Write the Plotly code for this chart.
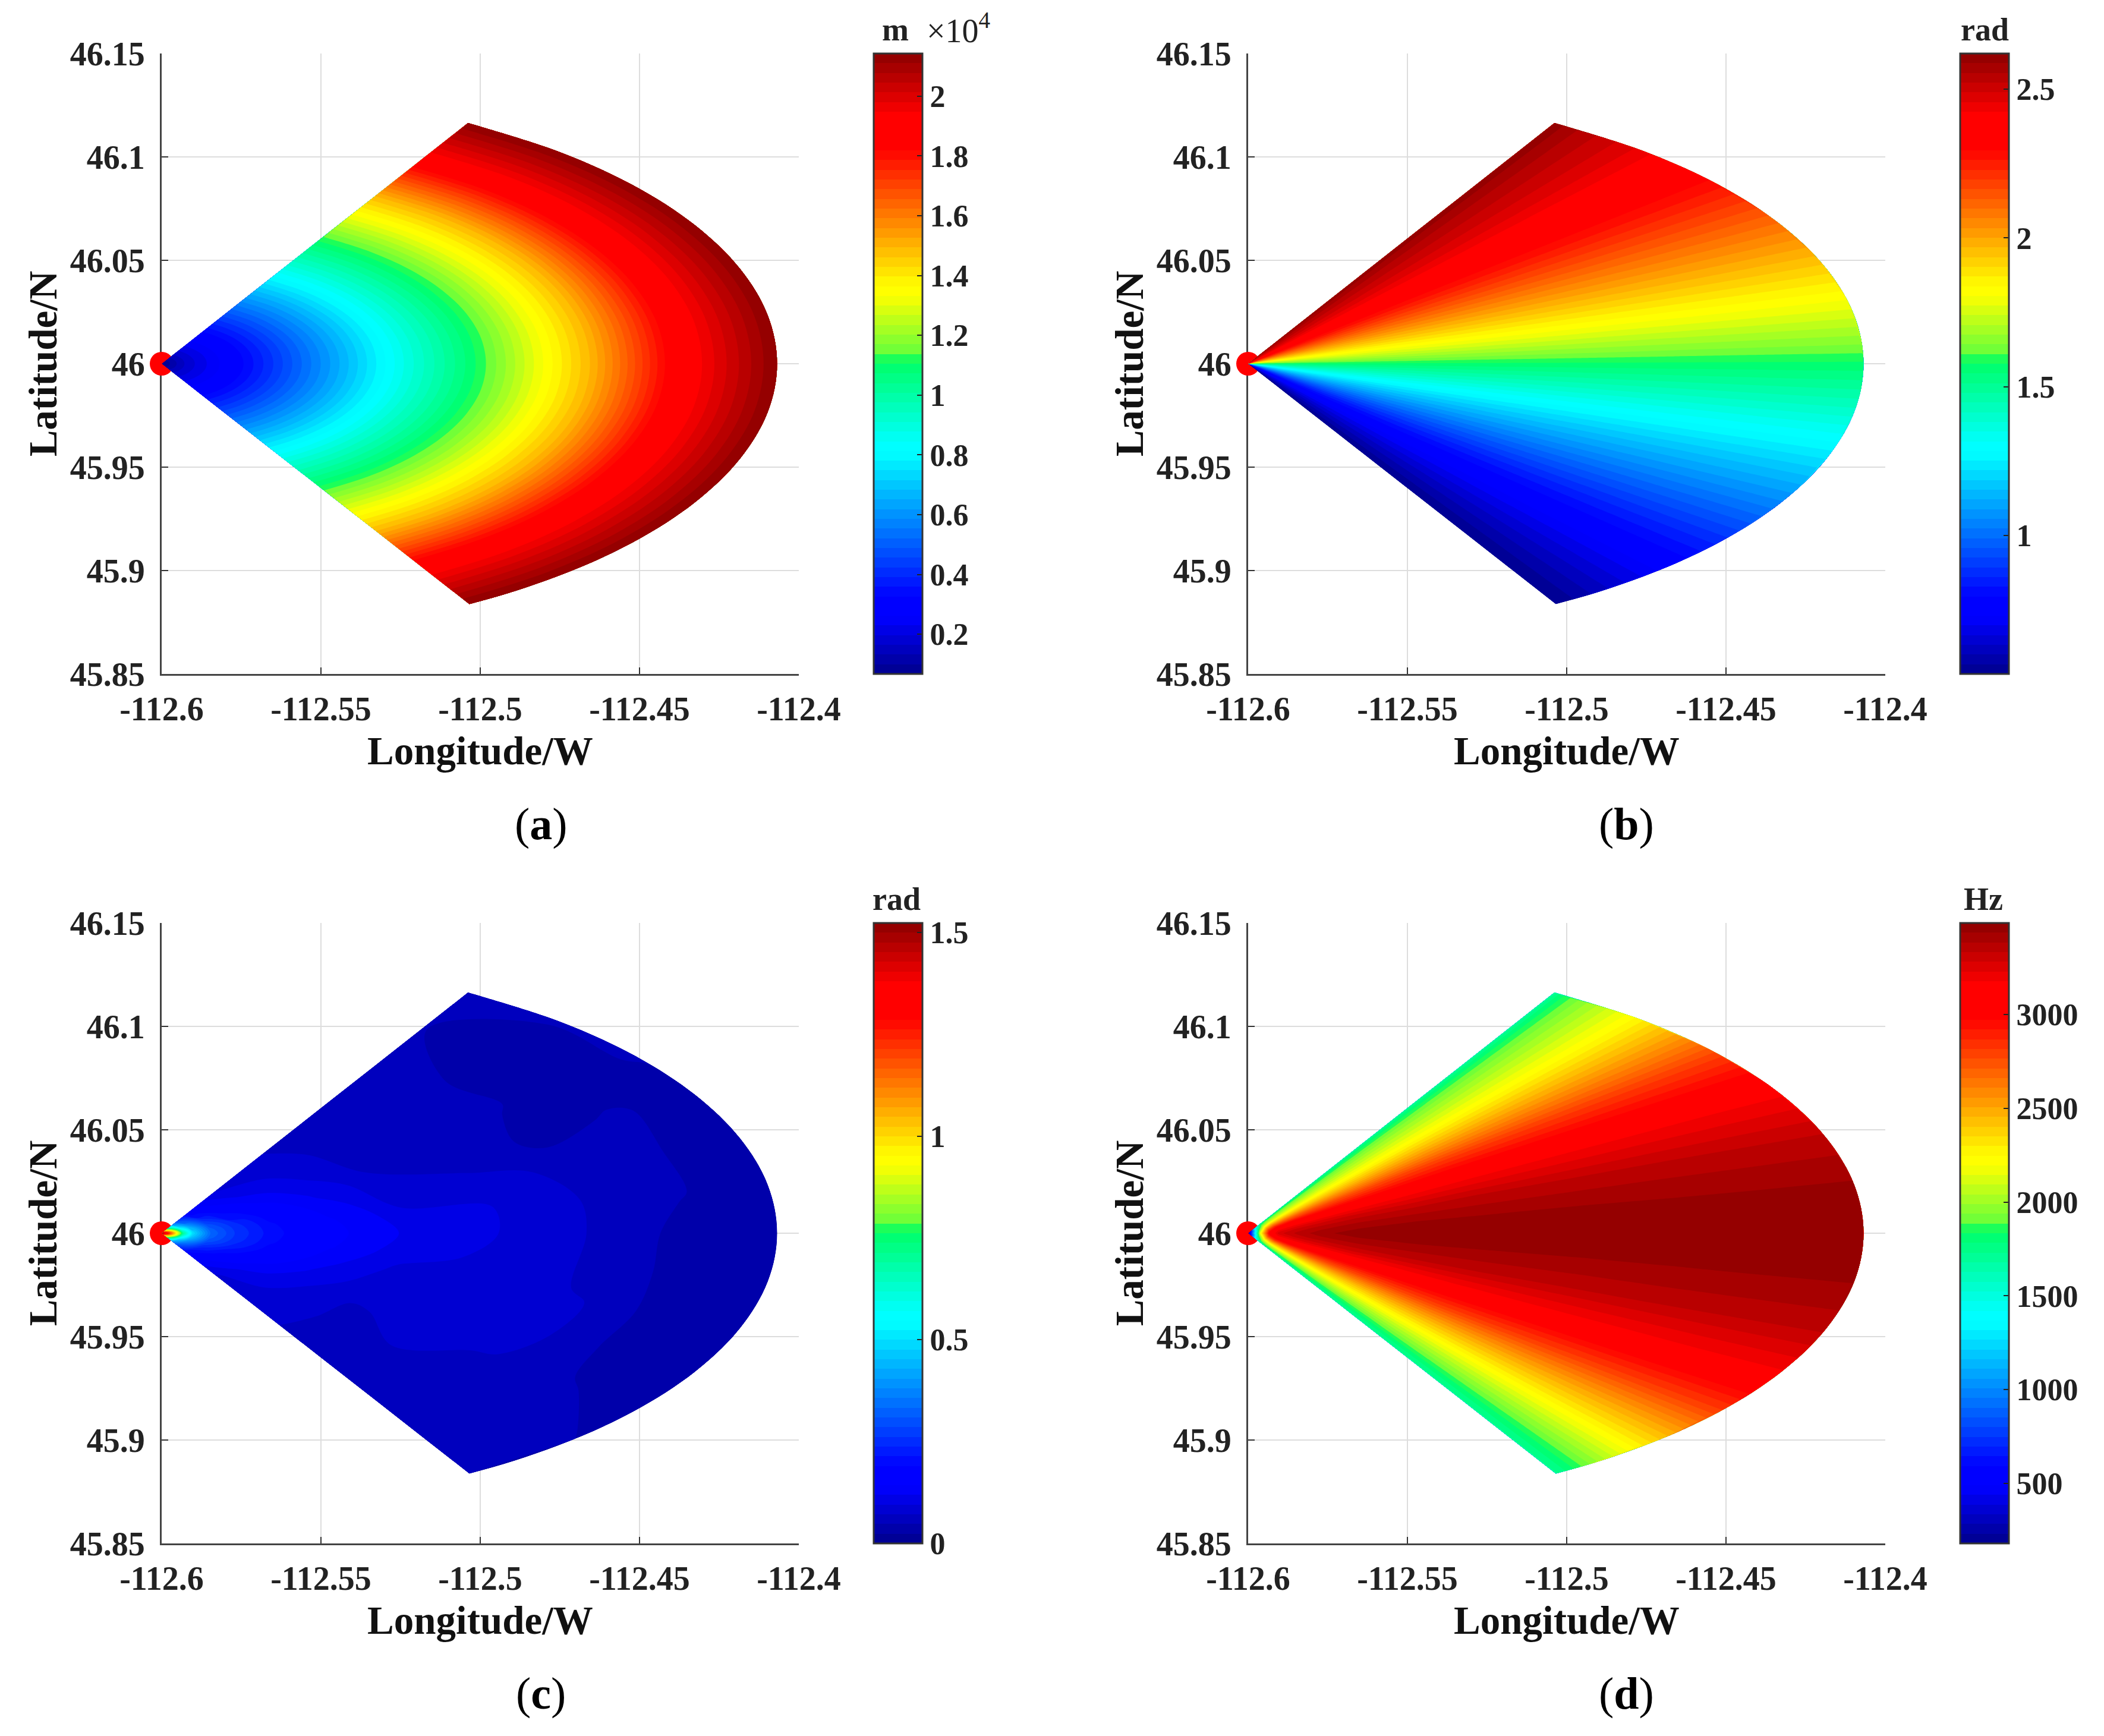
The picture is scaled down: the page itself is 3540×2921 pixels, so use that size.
import plotly.graph_objects as go

W, H = 3540, 2921
FONT = "Liberation Serif"
PAGE_MARGIN = 8  # the page's body margin shifts the figure by this many pixels


def fx(px):
    return (px - PAGE_MARGIN) / W


def fy(px):
    return 1 - (px - PAGE_MARGIN) / H


# sector geometry
apex_lon = -112.6
apex_lat = 46.0
bearing = [-60, -50, -40, -30, -20, -10, 0, 10, 20, 30, 40, 50, 60]
arc_lon = [-112.5036, -112.4761, -112.4523, -112.4330, -112.4188, -112.4101, -112.4072,
           -112.4101, -112.4188, -112.4330, -112.4523, -112.4761, -112.5036]
arc_lat = [45.8840, 45.8974, 45.9139, 45.93305, 45.9542, 45.97675, 46.0,
           46.02325, 46.0458, 46.06695, 46.0861, 46.1026, 46.1160]
range_frac = [0, .01, .02, .035, .05, .08, .12, .18, .28, .4, .55, .7, .85, 1]

# panel (a): value by range (x 10^4 m)
slant_by_range = [.07, .09, .12, .16, .19, .24, .30, .42, .63, .89, 1.18, 1.50, 1.90, 2.143]
# panel (b): value by bearing (rad)
angle_by_bearing = [.534, .70, .87, 1.05, 1.22, 1.40, 1.57, 1.75, 1.92, 2.09, 2.27, 2.44, 2.62]
# panel (c): rows by range, columns by bearing (rad)
panel_c = [
    [1.52] * 13,
    [1.00, 1.06, 1.12, 1.18, 1.24, 1.28, 1.30, 1.28, 1.24, 1.18, 1.12, 1.06, 1.00],
    [.70, .76, .82, .90, .98, 1.04, 1.06, 1.04, .98, .90, .82, .76, .70],
    [.40, .44, .48, .54, .60, .66, .70, .66, .60, .54, .48, .44, .40],
    [.29, .33, .37, .41, .45, .48, .50, .48, .45, .41, .37, .33, .29],
    [.19, .21, .24, .27, .30, .32, .33, .32, .30, .27, .24, .21, .19],
    [.13, .15, .18, .21, .24, .255, .26, .255, .24, .21, .18, .15, .13],
    [.09, .11, .135, .16, .18, .195, .20, .195, .18, .16, .135, .11, .09],
    [.08, .09, .10, .115, .13, .145, .15, .145, .13, .115, .10, .09, .08],
    [.07, .07, .07, .08, .09, .105, .115, .105, .095, .08, .07, .065, .06],
    [.06, .07, .075, .08, .085, .09, .095, .095, .09, .07, .06, .05, .05],
    [.06, .065, .07, .08, .08, .07, .07, .07, .06, .04, .05, .05, .05],
    [.06, .06, .05, .04, .04, .04, .04, .05, .05, .05, .035, .03, .05],
    [.05, .05, .04, .03, .03, .03, .03, .03, .03, .04, .05, .05, .05],
]
# panel (d): rows by range, columns by bearing (Hz)
panel_d = [
    [180] * 13,
    [700, 800, 900, 1000, 1100, 1180, 1230, 1180, 1100, 1000, 900, 800, 700],
    [1300, 1500, 1700, 1850, 2000, 2120, 2200, 2120, 2000, 1850, 1700, 1500, 1300],
    [1680, 1950, 2250, 2550, 2800, 2950, 3050, 2950, 2800, 2550, 2250, 1950, 1680],
    [1710, 2100, 2500, 2850, 3080, 3200, 3260, 3200, 3080, 2850, 2500, 2100, 1710],
    [1720, 2200, 2650, 3000, 3190, 3300, 3350, 3300, 3190, 3000, 2650, 2200, 1720],
    [1720, 2250, 2720, 3060, 3250, 3360, 3420, 3360, 3250, 3060, 2720, 2250, 1720],
    [1720, 2280, 2760, 3100, 3300, 3405, 3470, 3405, 3300, 3100, 2760, 2280, 1720],
    [1720, 2290, 2780, 3130, 3325, 3425, 3488, 3430, 3320, 3130, 2780, 2290, 1720],
    [1720, 2300, 2800, 3150, 3340, 3430, 3488, 3435, 3340, 3150, 2800, 2300, 1720],
    [1720, 2300, 2800, 3160, 3345, 3432, 3488, 3440, 3345, 3160, 2800, 2300, 1720],
    [1720, 2300, 2800, 3165, 3350, 3435, 3488, 3440, 3350, 3165, 2800, 2300, 1720],
    [1720, 2300, 2800, 3170, 3350, 3438, 3488, 3442, 3350, 3170, 2800, 2300, 1720],
    [1720, 2300, 2800, 3170, 3350, 3440, 3488, 3445, 3350, 3170, 2800, 2300, 1720],
]

# colour bars and tick labels
range_a = (.067, 2.143)
range_b = (.534, 2.62)
range_c = (0, 1.523)
range_d = (180, 3488)
cb_vals_a = [.2, .4, .6, .8, 1, 1.2, 1.4, 1.6, 1.8, 2]
cb_text_a = ["0.2", "0.4", "0.6", "0.8", "1", "1.2", "1.4", "1.6", "1.8", "2"]
cb_vals_b = [1, 1.5, 2, 2.5]
cb_text_b = ["1", "1.5", "2", "2.5"]
cb_vals_c = [0, .5, 1, 1.5]
cb_text_c = ["0", "0.5", "1", "1.5"]
cb_vals_d = [500, 1000, 1500, 2000, 2500, 3000]
cb_text_d = ["500", "1000", "1500", "2000", "2500", "3000"]
x_ticks = [-112.6, -112.55, -112.5, -112.45, -112.4]
x_text = ["-112.6", "-112.55", "-112.5", "-112.45", "-112.4"]
y_ticks = [45.85, 45.9, 45.95, 46, 46.05, 46.1, 46.15]
y_text = ["45.85", "45.9", "45.95", "46", "46.05", "46.1", "46.15"]

jet = [
    [0, "rgb(0,0,140)"], [.09, "rgb(0,0,255)"], [.125, "rgb(0,0,255)"], [.355, "rgb(0,255,255)"],
    [.372, "rgb(0,255,255)"], [.505, "rgb(0,255,100)"], [.515, "rgb(100,255,60)"],
    [.61, "rgb(255,255,0)"], [.625, "rgb(255,255,0)"],
    [.845, "rgb(255,0,0)"], [.90, "rgb(255,0,0)"], [1, "rgb(140,0,0)"],
]

# the contour tracer leaves the last grid cell unfinished, so the grid gets a hair-thin last ray and ring
bearing_pad = bearing + [60.2]
arc_lon_pad = arc_lon + [-112.5040]
arc_lat_pad = arc_lat + [46.1162]
range_pad = range_frac + [1.002]

grid_lon = [[apex_lon + f * (lo - apex_lon) for lo in arc_lon_pad] for f in range_pad]
grid_lat = [[apex_lat + f * (la - apex_lat) for la in arc_lat_pad] for f in range_pad]


def padded(rows):
    out = [r + [r[-1]] for r in rows]
    return out + [list(out[-1])]


z_a = padded([[v] * len(bearing) for v in slant_by_range])
z_b = padded([list(angle_by_bearing) for _ in range_frac])
z_c = padded(panel_c)
z_d = padded(panel_d)

panels = [
    dict(z=z_a, rng=range_a, tv=cb_vals_a, tt=cb_text_a, l=272, r=1344, t=90, b=1134, cl=1470,
         tag="a", tag_x=910, tag_y=1386, smooth=1),
    dict(z=z_b, rng=range_b, tv=cb_vals_b, tt=cb_text_b, l=2100, r=3172, t=90, b=1134, cl=3298,
         tag="b", tag_x=2736, tag_y=1386, smooth=0),
    dict(z=z_c, rng=range_c, tv=cb_vals_c, tt=cb_text_c, l=272, r=1344, t=1553, b=2597, cl=1470,
         tag="c", tag_x=910, tag_y=2849, smooth=1),
    dict(z=z_d, rng=range_d, tv=cb_vals_d, tt=cb_text_d, l=2100, r=3172, t=1553, b=2597, cl=3298,
         tag="d", tag_x=2736, tag_y=2849, smooth=0),
]

fig = go.Figure()
layout = {}
annotations = []
hidden = dict(showgrid=False, showline=False, startline=False, endline=False,
              showticklabels="none", minorgridcount=0)
tick_font = dict(family=FONT, size=56, color="#222", weight=700)

for i, p in enumerate(panels):
    base = 2 * i + 1
    over = 2 * i + 2
    bx, by = f"x{base}", f"y{base}"
    ox, oy = f"x{over}", f"y{over}"
    # base axes carry frame, grid and the red point; the sector sits on overlaid axes above it
    layout[f"xaxis{base}"] = dict(
        domain=[fx(p["l"]), fx(p["r"])], range=[-112.6, -112.4], anchor=by, tickmode="array",
        tickvals=x_ticks, ticktext=x_text, ticks="inside", ticklen=11, tickwidth=2, tickcolor="#333",
        showgrid=True, gridcolor="#dddddd", gridwidth=2, showline=True, linecolor="#444", linewidth=3,
        zeroline=False, layer="below traces",
        tickfont=tick_font, ticklabelstandoff=8,
        title=dict(text="<b>Longitude/W</b>", font=dict(family=FONT, size=67, color="#111"), standoff=16),
    )
    layout[f"yaxis{base}"] = dict(
        domain=[fy(p["b"]), fy(p["t"])], range=[45.85, 46.15], anchor=bx, tickmode="array",
        tickvals=y_ticks, ticktext=y_text, ticks="inside", ticklen=11, tickwidth=2, tickcolor="#333",
        showgrid=True, gridcolor="#dddddd", gridwidth=2, showline=True, linecolor="#444", linewidth=3,
        zeroline=False, layer="below traces",
        tickfont=tick_font, ticklabelstandoff=14,
        title=dict(text="<b>Latitude/N</b>", font=dict(family=FONT, size=67, color="#111"), standoff=1),
    )
    layout[f"xaxis{over}"] = dict(overlaying=bx, range=[-112.6, -112.4], anchor=oy, visible=False)
    layout[f"yaxis{over}"] = dict(overlaying=by, range=[45.85, 46.15], anchor=ox, visible=False)

    fig.add_trace(go.Scatter(x=[apex_lon], y=[apex_lat], mode="markers", cliponaxis=False,
                             marker=dict(color="rgb(255,0,0)", size=40), xaxis=bx, yaxis=by,
                             showlegend=False))
    cid = f"sector{i}"
    fig.add_trace(go.Carpet(carpet=cid, a=bearing_pad, b=range_pad, x=grid_lon, y=grid_lat,
                            xaxis=ox, yaxis=oy,
                            aaxis=dict(smoothing=1, **hidden), baxis=dict(smoothing=0, **hidden)))
    lo, hi = p["rng"]
    fig.add_trace(go.Contourcarpet(
        carpet=cid, a=bearing_pad, b=range_pad, z=p["z"], colorscale=jet, autocontour=False, zmin=lo, zmax=hi,
        contours=dict(start=lo, end=hi, size=(hi - lo) / 64, coloring="fill", showlines=False),
        line=dict(width=0, smoothing=p["smooth"]),
        colorbar=dict(
            x=fx(p["cl"]), xanchor="left", xpad=0, ypad=0, y=fy(p["t"]), yanchor="top",
            lenmode="pixels", len=p["b"] - p["t"], thicknessmode="pixels", thickness=82,
            outlinecolor="#333", outlinewidth=3, ticks="inside", ticklen=10, tickwidth=2, tickcolor="#222",
            tickmode="array", tickvals=p["tv"], ticktext=p["tt"], tickprefix="\u2009",
            tickfont=dict(family=FONT, size=52, color="#222", weight=700),
        ),
    ))
    annotations.append(dict(text=f"(<b>{p['tag']}</b>)", x=fx(p["tag_x"]), y=fy(p["tag_y"]),
                            xref="paper", yref="paper", showarrow=False, xanchor="center", yanchor="middle",
                            font=dict(family=FONT, size=76, color="#000")))


def unit(text, px, py, size=54, bold=True):
    annotations.append(dict(text=f"<b>{text}</b>" if bold else text, x=fx(px), y=fy(py), xref="paper",
                            yref="paper", showarrow=False, xanchor="center", yanchor="middle",
                            font=dict(family=FONT, size=size, color="#222")))


unit("m", 1506, 50)
unit("×10<sup>4</sup>", 1612, 48, size=56, bold=False)
unit("rad", 3339, 50)
unit("rad", 1508, 1513)
unit("Hz", 3337, 1513)

fig.update_layout(width=W, height=H, margin=dict(l=0, r=0, t=0, b=0, autoexpand=False), paper_bgcolor="white",
                  plot_bgcolor="white", showlegend=False, annotations=annotations, **layout)
fig.write_html("out.html")
